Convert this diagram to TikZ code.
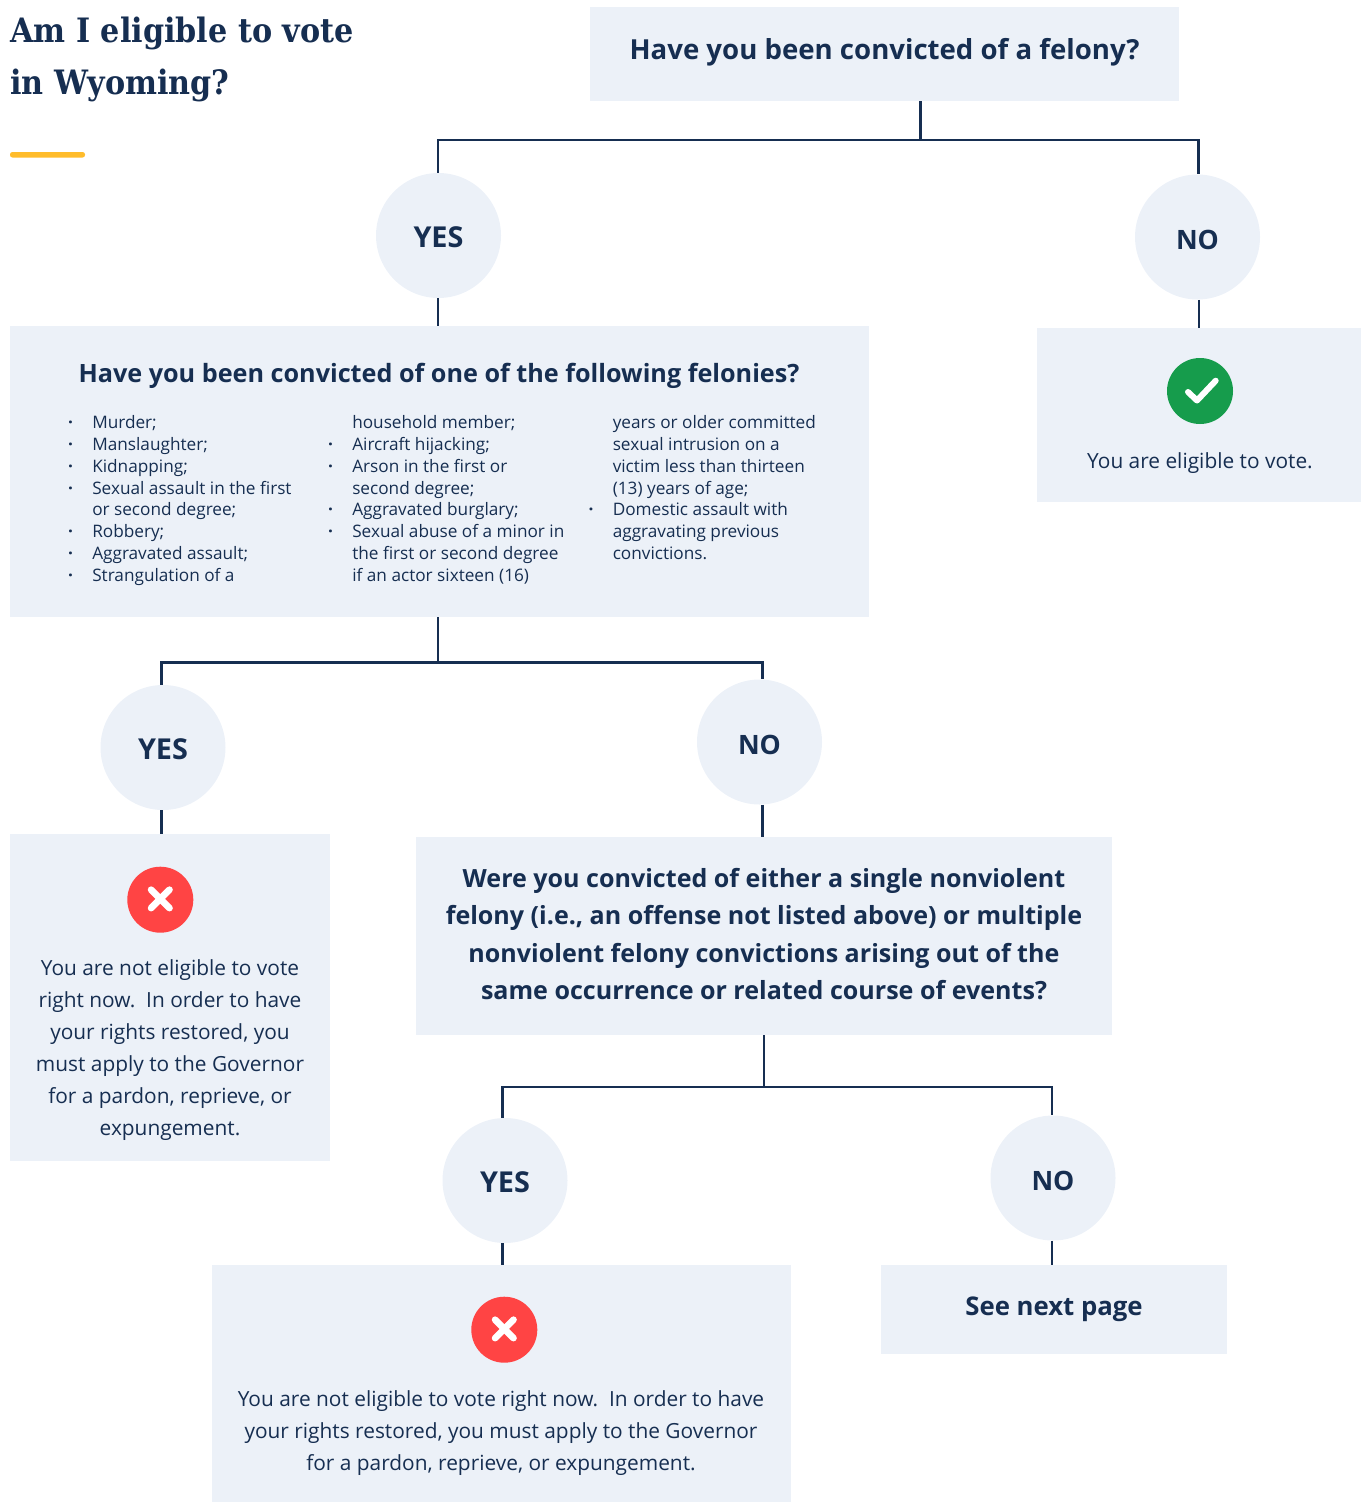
\documentclass[tikz,border=0pt]{standalone}
\usepackage{fontspec}
\setmainfont{Open Sans}
\newfontfamily\titlefont{DejaVu Serif Condensed}
\definecolor{navy}{HTML}{162E51}
\definecolor{panel}{HTML}{ECF1F8}
\definecolor{okgreen}{HTML}{169C4C}
\definecolor{nored}{HTML}{FF4444}
\definecolor{gold}{HTML}{FFBC2B}
\newcommand{\bl}{\llap{\textbf{·}\hspace{14.4pt}}}
\tikzset{
  panelbox/.style={fill=panel,draw=none,inner sep=0pt,rectangle},
  answer/.style={circle,fill=panel,draw=none,inner sep=0pt,minimum size=93.75pt,text=navy,text depth=0pt,text height=18.6pt,font=\fontsize{#1}{24}\selectfont\bfseries},
  answer/.default=20,
  conn/.style={draw=navy,line width=2.2pt},
  bodytext/.style={text=navy,align=center,inner sep=0pt,font=\fontsize{15.65}{24}\selectfont},
  headtext/.style={text=navy,align=center,inner sep=0pt,font=\fontsize{#1}{27.95}\selectfont\bfseries},
  listtext/.style={text=navy,align=left,inner sep=0pt,anchor=north west,font=\fontsize{12.9}{16.42}\selectfont},
  icon/.style={circle,draw=none,inner sep=0pt,minimum size=49.5pt},
  tick stroke/.style={draw=white,line width=4.5pt,line cap=round,line join=round},
  cross stroke/.style={draw=white,line width=5pt,line cap=round},
}
\begin{document}
\begin{tikzpicture}[x=0.75pt,y=-0.75pt]
\useasboundingbox (0,0) rectangle (1361,1502);
% title
\node[text=navy,align=left,inner sep=0pt,anchor=west,font=\fontsize{25.2}{39}\titlefont\bfseries] (title) at (10,59) {Am I eligible to vote\\in Wyoming?};
\fill[gold,rounded corners=1.8pt] (10,152) rectangle (85,157.5);
% boxes
\node[panelbox,minimum width=441.75pt,minimum height=70.5pt] (q1) at (884.5,54) {};
\node[panelbox,minimum width=644.25pt,minimum height=218.25pt] (q2) at (439.5,471.5) {};
\node[panelbox,minimum width=243pt,minimum height=130.5pt] (a1) at (1199,415) {};
\node[panelbox,minimum width=240pt,minimum height=245.25pt] (r1) at (170,997.5) {};
\node[panelbox,minimum width=522pt,minimum height=148.5pt] (q3) at (764,936) {};
\node[panelbox,minimum width=434.25pt,minimum height=177.75pt] (r2) at (501.5,1383.5) {};
\node[panelbox,minimum width=259.5pt,minimum height=66.75pt] (s1) at (1054,1309.5) {};
% answers
\node[answer=21.6] (yes1) at (438.5,235.5) {YES};
\node[answer] (no1) at (1197.5,237) {NO};
\node[answer=21.6] (yes2) at (163,747.5) {YES};
\node[answer] (no2) at (759.5,742) {NO};
\node[answer=21.6] (yes3) at (505,1180.5) {YES};
\node[answer] (no3) at (1053,1178) {NO};
% junctions
\coordinate (j1) at (920.5,140);
\coordinate (j2) at (438,662.5);
\coordinate (j3) at (764,1087);
\coordinate (l1) at (438,140);
\coordinate (r1c) at (1198.5,140);
\coordinate (l2) at (161.5,662.5);
\coordinate (r2c) at (762.5,662.5);
\coordinate (l3) at (502.5,1087);
\coordinate (r3c) at (1052,1087);
\coordinate (a1c) at (1199,328);
% connectors
\draw[conn] (q1.south -| j1) -- (j1);
\draw[conn,line join=miter] (yes1.north -| l1) -- (l1) -- (r1c) -- (no1.north -| r1c);
\draw[conn] (yes1.south -| l1) -- (q2.north -| l1);
\draw[conn] (no1.south -| a1c) -- (a1.north -| a1c);
\draw[conn] (q2.south -| j2) -- (j2);
\draw[conn] (yes2.north -| l2) -- (l2) -- (r2c) -- (no2.north -| r2c);
\draw[conn] (yes2.south -| l2) -- (r1.north -| l2);
\draw[conn] (no2.south -| r2c) -- (q3.north -| r2c);
\draw[conn] (q3.south -| j3) -- (j3);
\draw[conn] (yes3.north -| l3) -- (l3) -- (r3c) -- (no3.north -| r3c);
\draw[conn] (yes3.south -| l3) -- (r2.north -| l3);
\draw[conn] (no3.south -| r3c) -- (s1.north -| r3c);
% headings
\node[headtext=20.7] (q1t) at (884.5,52) {Have you been convicted of a felony?};
\node[headtext=18.9] (q2t) at (439,376) {Have you been convicted of one of the following felonies?};
\node[headtext=18.8] (q3t) at (764,934) {Were you convicted of either a single nonviolent\\felony (i.e., an offense not listed above) or multiple\\nonviolent felony convictions arising out of the\\same occurrence or related course of events?};
\node[headtext=19.3] (s1t) at (1054,1309.5) {See next page};
% lists
\node[listtext] (c1) at (92,415) {\bl Murder;\\\bl Manslaughter;\\\bl Kidnapping;\\\bl Sexual assault in the first\\or second degree;\\\bl Robbery;\\\bl Aggravated assault;\\\bl Strangulation of a};
\node[listtext] (c2) at (352,415) {household member;\\\bl Aircraft hijacking;\\\bl Arson in the first or\\second degree;\\\bl Aggravated burglary;\\\bl Sexual abuse of a minor in\\the first or second degree\\if an actor sixteen (16)};
\node[listtext] (c3) at (612.5,415) {years or older committed\\sexual intrusion on a\\victim less than thirteen\\(13) years of age;\\\bl Domestic assault with\\aggravating previous\\convictions.};
% body
\node[bodytext] (a1t) at (1200,463) {You are eligible to vote.};
\node[bodytext] (r1t) at (170,1050) {You are not eligible to vote\\right now.\ \ In order to have\\your rights restored, you\\must apply to the Governor\\for a pardon, reprieve, or\\expungement.};
\node[bodytext] (r2t) at (501,1433) {You are not eligible to vote right now.\ \ In order to have\\your rights restored, you must apply to the Governor\\for a pardon, reprieve, or expungement.};
% icons
\node[icon,fill=okgreen] (ok) at (1200,391) {};
\draw[tick stroke] ([shift={(-12,1)}]ok.center) -- ([shift={(-3,9.5)}]ok.center) -- ([shift={(15.7,-10.3)}]ok.center);
\node[icon,fill=nored] (x1) at (160.3,899.7) {};
\draw[cross stroke] ([shift={(-9.2,-10)}]x1.center) -- ([shift={(9.2,8.4)}]x1.center);
\draw[cross stroke] ([shift={(-9.2,8.4)}]x1.center) -- ([shift={(9.2,-10)}]x1.center);
\node[icon,fill=nored] (x2) at (504.3,1329.7) {};
\draw[cross stroke] ([shift={(-9.2,-10)}]x2.center) -- ([shift={(9.2,8.4)}]x2.center);
\draw[cross stroke] ([shift={(-9.2,8.4)}]x2.center) -- ([shift={(9.2,-10)}]x2.center);
\end{tikzpicture}
\end{document}
